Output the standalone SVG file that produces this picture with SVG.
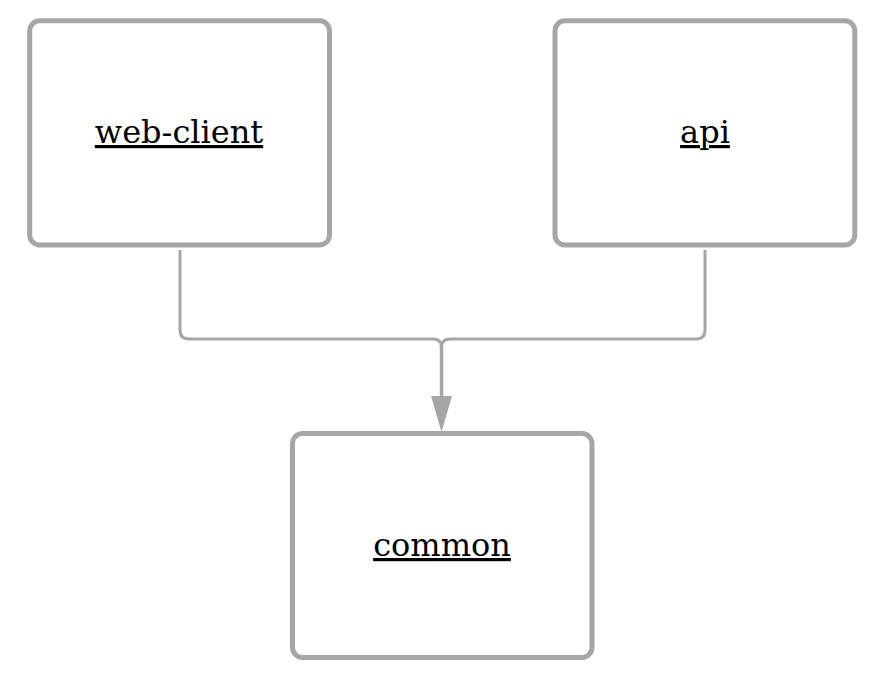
<svg xmlns="http://www.w3.org/2000/svg" width="881" height="684" viewBox="0 0 881 684">
<style>
.box{fill:#fff;stroke:#a6a6a6;stroke-width:5}
.lbl{font-family:"DejaVu Serif","Liberation Serif",serif;font-size:32px;fill:#000;text-anchor:middle;text-decoration:underline}
.con{fill:none;stroke:#a6a6a6;stroke-width:3}
</style>
<rect width="881" height="684" fill="#fff"/>
<g id="connectors">
<path class="con" d="M180,250 V330 Q180,339 189,339 H433 Q441.5,339 441.5,347"/>
<path class="con" d="M705,250 V330 Q705,339 696,339 H450 Q441.5,339 441.5,347"/>
<path class="con" d="M441.5,345 V400" style="stroke-width:3.5"/>
<polygon points="431,396 452,396 441.5,432" fill="#a6a6a6"/>
</g>
<g id="web-client">
<rect class="box" x="29.7" y="20.8" width="299.8" height="224.2" rx="10"/>
<text class="lbl" x="179" y="143">web-client</text>
</g>
<g id="api">
<rect class="box" x="555" y="20.8" width="299.8" height="224.2" rx="10"/>
<text class="lbl" x="705" y="143">api</text>
</g>
<g id="common">
<rect class="box" x="292.5" y="433.5" width="299.5" height="224" rx="10"/>
<text class="lbl" x="442" y="556">common</text>
</g>
</svg>
